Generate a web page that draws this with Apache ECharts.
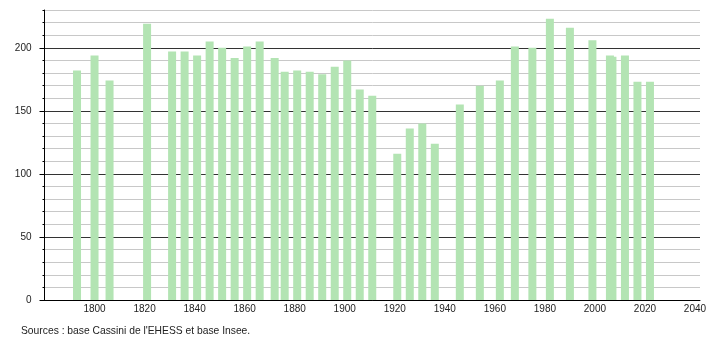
<!DOCTYPE html>
<html>
<head>
<meta charset="utf-8">
<script src="https://cdn.jsdelivr.net/npm/echarts@6/dist/echarts.min.js"></script>
<style>
html,body{margin:0;padding:0;background:#fff;}
#chart{width:710px;height:340px;}
</style>
</head>
<body>
<div id="chart"></div>
<script>
var years = [1793,1800,1806,1821,1831,1836,1841,1846,1851,1856,1861,1866,1872,1876,1881,1886,1891,1896,1901,1906,1911,1921,1926,1931,1936,1946,1954,1962,1968,1975,1982,1990,1999,2006,2007,2012,2017,2022];
var population = [182,194,174,219,197,197,194,205,200,192,201,205,192,181,182,181,179,185,190,167,162,116,136,140,124,155,170,174,201,200,223,216,206,194,193,194,173,173];
var yTickLabels = [0,50,100,150,200];
var xTickLabels = [1800,1820,1840,1860,1880,1900,1920,1940,1960,1980,2000,2020,2040];
var sourceText = "Sources : base Cassini de l'EHESS et base Insee.";

var data = years.map(function(y,i){return [y,population[i]];});
var font = 'Liberation Sans, Arial, sans-serif';
var chart = echarts.init(document.getElementById('chart'));
chart.setOption({
  animation:false,
  backgroundColor:'#fff',
  grid:{left:44.5,top:10,width:655.5,height:290,containLabel:false},
  xAxis:{
    type:'value',min:1780,max:2042,interval:20,
    axisLine:{show:true,lineStyle:{color:'#000',width:1}},
    axisTick:{show:false},
    splitLine:{show:false},
    axisLabel:{
      margin:4,fontSize:10,fontFamily:font,color:'#222',
      customValues:xTickLabels,
      formatter:function(v){return String(v);}
    }
  },
  yAxis:[{
    type:'value',min:0,max:230,interval:10,
    axisLine:{show:true,lineStyle:{color:'#000',width:1}},
    axisTick:{show:true,length:2,lineStyle:{color:'#000'}},
    splitLine:{show:true,lineStyle:{width:1,color:['#333','#c8c8c8','#c8c8c8','#c8c8c8','#c8c8c8']}},
    axisLabel:{
      margin:13,fontSize:10,fontFamily:font,color:'#222',
      customValues:yTickLabels,
      formatter:function(v){return String(v);}
    }
  },{
    type:'value',min:0,max:230,position:'left',
    axisLine:{show:false},
    axisTick:{show:true,length:5,customValues:yTickLabels,lineStyle:{color:'#000'}},
    axisLabel:{show:false},
    splitLine:{show:false}
  }],
  series:[{
    type:'bar',
    data:data,
    barWidth:8,
    itemStyle:{color:'#b3e4b3'},
    silent:true
  }],
  graphic:[{
    type:'text',left:21,top:326,
    style:{text:sourceText,font:'10.3px '+font,fill:'#222'}
  }]
});
</script>
</body>
</html>
